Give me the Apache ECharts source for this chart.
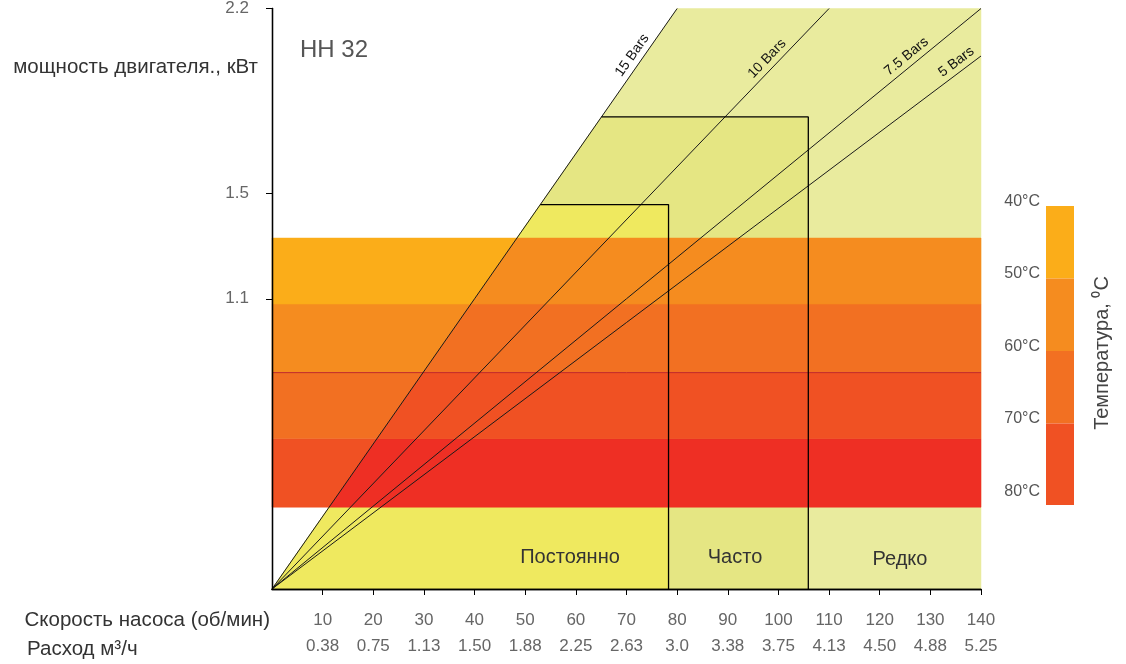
<!DOCTYPE html>
<html>
<head>
<meta charset="utf-8">
<script src="https://cdn.jsdelivr.net/npm/echarts@6/dist/echarts.min.js"></script>
<style>
html, body { margin: 0; padding: 0; background: #fff; }
#main { width: 1126px; height: 664px; }
</style>
</head>
<body>
<div id="main"></div>
<script>
// ---- данные графика HH 32 ----
const speedTicks = [10, 20, 30, 40, 50, 60, 70, 80, 90, 100, 110, 120, 130, 140];
const flowLabels = ['0.38', '0.75', '1.13', '1.50', '1.88', '2.25', '2.63', '3.0', '3.38', '3.75', '4.13', '4.50', '4.88', '5.25'];
const powerTicks = [1.1, 1.5, 2.2];

// линии давления: конец линии [скорость, мощность], начало в (0,0)
const barNames = ['15 Bars', '10 Bars', '7.5 Bars', '5 Bars'];
const barEnds = [[80, 2.2], [110, 2.2], [140, 2.2], [140, 2.02]];

// зоны режима работы (правая граница и верх)
const zoneNames = ['Постоянно', 'Часто', 'Редко'];
const zoneRight = [78.3, 105.9, 140];
const zoneTop = [1.457, 1.789, 2.2];

// температурные полосы, границы снизу вверх
const bandEdges = [0.31, 0.57, 0.82, 1.08, 1.33];
const tempTicks = [40, 50, 60, 70, 80];
const tempEdges = [40, 50, 60, 70, 81.25];

const FONT = '"Liberation Sans", Arial, sans-serif';
const zoneColors = ['#efe95f', '#e5e683', '#e9eb9e'];
const bandLeftColors = ['#f05123', '#f27022', '#f58c1f', '#fbad19'];   // снизу вверх
const bandRightColors = ['#ee2f24', '#f05123', '#f27022', '#f58c1f'];
const scaleColors = ['#fbad19', '#f58c1f', '#f27022', '#f05123'];      // 40 -> 80
// сдвиг подписи вдоль линии (px)
const barLabelShift = [40, 55, 62, 3];

const slope15 = barEnds[0][1] / barEnds[0][0];
const xOn15 = y => y / slope15;

// полигоны зон (рисуем от большей к меньшей)
const zonePolys = [];
for (let i = zoneNames.length - 1; i >= 0; i--) {
    const t = zoneTop[i], r = zoneRight[i];
    zonePolys.push({ pts: [[0, 0], [xOn15(t), t], [r, t], [r, 0]], color: zoneColors[i] });
}

// полосы температур: левая часть (до линии 15 Bars) и правая
const bandPolys = [];
for (let k = 0; k < bandEdges.length - 1; k++) {
    const y0 = bandEdges[k], y1 = bandEdges[k + 1];
    bandPolys.push({ pts: [[0, y0], [0, y1], [xOn15(y1), y1], [xOn15(y0), y0]], color: bandLeftColors[k] });
    bandPolys.push({ pts: [[xOn15(y0), y0], [xOn15(y1), y1], [140, y1], [140, y0]], color: bandRightColors[k] });
}

function polySeries(polys, z) {
    return {
        type: 'custom', xAxisIndex: 0, yAxisIndex: 0, z: z, silent: true, animation: false,
        data: polys.map((p, i) => i),
        renderItem: function (params, api) {
            const p = polys[params.dataIndex];
            return {
                type: 'polygon',
                shape: { points: p.pts.map(v => api.coord(v)) },
                style: { fill: p.color, stroke: p.color, lineWidth: 0.5 }
            };
        }
    };
}

const chart = echarts.init(document.getElementById('main'));

const series = [
    polySeries(zonePolys, 1),
    polySeries(bandPolys, 2),
    {
        // тонкая красная линия на границе 60°C
        type: 'line', z: 3, symbol: 'none', silent: true, animation: false,
        data: [[0, bandEdges[2]], [140, bandEdges[2]]],
        lineStyle: { color: '#c1272d', width: 1 }
    },
    {
        type: 'line', data: [], z: 4, silent: true,
        markLine: {
            silent: true, animation: false, symbol: ['none', 'none'],
            lineStyle: { color: '#1a1a1a', width: 1, type: 'solid' },
            label: { show: true, position: 'insideEndTop', color: '#111', fontSize: 14, fontFamily: FONT },
            data: barEnds.map((e, i) => [
                { coord: [0, 0] },
                { coord: e, label: { formatter: barNames[i], distance: [barLabelShift[i], 3] } }
            ])
        }
    }
];

// контуры зон Постоянно и Часто
for (let i = 0; i < 2; i++) {
    series.push({
        type: 'line', z: 5, symbol: 'none', silent: true, animation: false,
        data: [[xOn15(zoneTop[i]), zoneTop[i]], [zoneRight[i], zoneTop[i]], [zoneRight[i], 0]],
        lineStyle: { color: '#000', width: 1.3 }
    });
}

// шкала температуры
series.push({
    type: 'line', data: [], xAxisIndex: 2, yAxisIndex: 2, silent: true,
    markArea: {
        silent: true, animation: false,
        data: scaleColors.map((c, i) => [
            { yAxis: tempEdges[i], itemStyle: { color: c } },
            { yAxis: tempEdges[i + 1] }
        ])
    }
});

chart.setOption({
    animation: false,
    backgroundColor: '#fff',
    textStyle: { fontFamily: FONT },
    grid: [
        { left: 272, right: 145, top: 3, bottom: 75 },
        { left: 1046, width: 28, top: 206, height: 299 }
    ],
    xAxis: [
        {
            type: 'value', min: 0, max: 140, z: 10,
            axisLine: { lineStyle: { color: '#000', width: 1.3 } },
            axisTick: { show: true, length: 6, customValues: speedTicks, lineStyle: { color: '#000' } },
            splitLine: { show: false },
            axisLabel: {
                customValues: speedTicks, margin: 18,
                formatter: v => '{a|' + v + '}\n{b|' + flowLabels[speedTicks.indexOf(v)] + '}',
                rich: {
                    a: { fontSize: 17, lineHeight: 26, color: '#666', fontFamily: FONT },
                    b: { fontSize: 17, lineHeight: 26, color: '#666', fontFamily: FONT }
                }
            }
        },
        {
            type: 'value', min: 0, max: 140, position: 'top', z: 10,
            axisLine: { lineStyle: { color: '#000', width: 1.3 } },
            axisTick: { show: false }, axisLabel: { show: false }, splitLine: { show: false }
        },
        {
            type: 'value', gridIndex: 1, min: 0, max: 1, show: false
        }
    ],
    yAxis: [
        {
            type: 'value', min: 0, max: 2.2, z: 10,
            axisLine: { show: true, lineStyle: { color: '#000', width: 1.3 } },
            axisTick: { show: true, length: 6, customValues: powerTicks, lineStyle: { color: '#000' } },
            splitLine: { show: false },
            axisLabel: { customValues: powerTicks, margin: 23, fontSize: 17, color: '#666' }
        },
        {
            type: 'value', min: 0, max: 2.2, position: 'right', z: 10,
            axisLine: { show: true, lineStyle: { color: '#000', width: 1.3 } },
            axisTick: { show: false }, axisLabel: { show: false }, splitLine: { show: false }
        },
        {
            type: 'value', gridIndex: 1, min: 40, max: 81.25, inverse: true,
            axisLine: { show: false }, axisTick: { show: false }, splitLine: { show: false },
            axisLabel: {
                customValues: tempTicks, margin: 6,
                formatter: '{t|{value}°C}',
                rich: { t: { fontSize: 16, color: '#555', fontFamily: FONT, padding: [0, 0, 9, 0] } }
            }
        }
    ],
    graphic: [
        { type: 'text', x: 300, y: 50, style: { text: 'HH 32', font: '24px ' + FONT, fill: '#555', verticalAlign: 'middle' } },
        { type: 'text', x: 258, y: 67, style: { text: 'мощность двигателя., кВт', font: '20.5px ' + FONT, fill: '#333', align: 'right', verticalAlign: 'middle' } },
        { type: 'text', x: 270, y: 620, style: { text: 'Скорость насоса (об/мин)', font: '20.5px ' + FONT, fill: '#333', align: 'right', verticalAlign: 'middle' } },
        { type: 'text', x: 27, y: 649, style: { text: 'Расход м³/ч', font: '20.5px ' + FONT, fill: '#333', align: 'left', verticalAlign: 'middle' } },
        { type: 'text', x: 570, y: 557, z: 20, style: { text: zoneNames[0], font: '20px ' + FONT, fill: '#333', align: 'center', verticalAlign: 'middle' } },
        { type: 'text', x: 735, y: 557, z: 20, style: { text: zoneNames[1], font: '20px ' + FONT, fill: '#333', align: 'center', verticalAlign: 'middle' } },
        { type: 'text', x: 900, y: 559, z: 20, style: { text: zoneNames[2], font: '20px ' + FONT, fill: '#333', align: 'center', verticalAlign: 'middle' } },
        { type: 'text', x: 1102, y: 353, rotation: Math.PI / 2, style: { text: 'Температура, ⁰C', font: '20px ' + FONT, fill: '#444', align: 'center', verticalAlign: 'middle' } }
    ],
    series: series
});
</script>
</body>
</html>
